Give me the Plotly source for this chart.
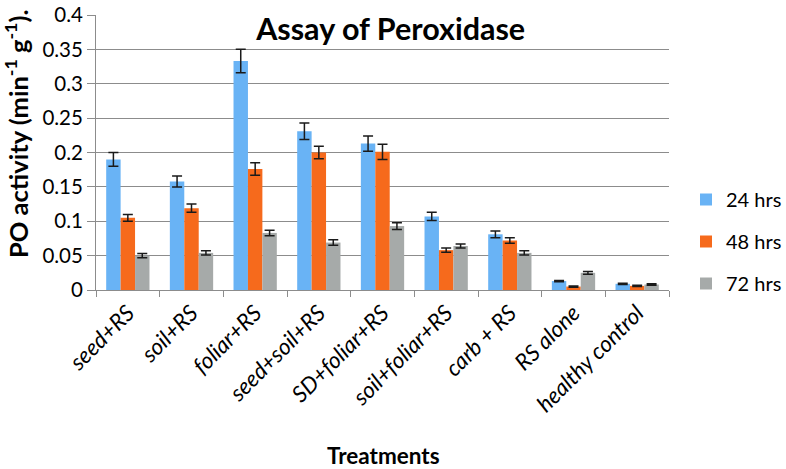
import plotly.graph_objects as go

categories = ["seed+RS", "soil+RS", "foliar+RS", "seed+soil+RS", "SD+foliar+RS",
              "soil+foliar+RS", "carb + RS", "RS alone", "healthy control"]
series_names = ["24 hrs", "48 hrs", "72 hrs"]
vals_24 = [0.190, 0.158, 0.333, 0.231, 0.213, 0.107, 0.081, 0.013, 0.009]
vals_48 = [0.105, 0.119, 0.176, 0.200, 0.201, 0.058, 0.072, 0.005, 0.006]
vals_72 = [0.050, 0.054, 0.083, 0.069, 0.093, 0.064, 0.054, 0.025, 0.008]
err_24 = [0.010, 0.008, 0.017, 0.012, 0.011, 0.006, 0.005, 0.001, 0.001]
err_48 = [0.005, 0.006, 0.009, 0.009, 0.011, 0.003, 0.004, 0.001, 0.001]
err_72 = [0.003, 0.003, 0.004, 0.004, 0.005, 0.003, 0.003, 0.002, 0.001]
colors = ["#69B3F5", "#F66A1C", "#A6AAA9"]
y_ticks = [0, 0.05, 0.1, 0.15, 0.2, 0.25, 0.3, 0.35, 0.4]

FONT = "Lato"
fig = go.Figure()
for name, vals, errs, col in zip(series_names, [vals_24, vals_48, vals_72],
                                 [err_24, err_48, err_72], colors):
    fig.add_trace(go.Bar(
        x=categories, y=vals, name=name, legendgroup=name,
        marker=dict(color=col, line=dict(width=0)),
        error_y=dict(type="data", array=errs, visible=True,
                     color="#1a1a1a", thickness=1.5, width=5),
    ))

fig.update_layout(
    width=786, height=469,
    margin=dict(l=96, r=117, t=15, b=179, autoexpand=False),
    paper_bgcolor="white", plot_bgcolor="white",
    barmode="group", bargap=0.32, bargroupgap=0,
    font=dict(family=FONT, size=20, color="#000000"),
    title=dict(text="<b>Assay of Peroxidase</b>", x=0.497, xanchor="center",
               y=1 - 29 / 469, yanchor="middle",
               font=dict(family=FONT, size=30.5, color="#000000")),
    legend=dict(x=1.0297, xanchor="left", y=0.40, yanchor="top",
                traceorder="grouped", tracegroupgap=13,
                font=dict(family=FONT, size=20), itemwidth=30,
                bgcolor="rgba(0,0,0,0)"),
    xaxis=dict(
        type="category", tickangle=-45, automargin=False,
        tickfont=dict(family=FONT, size=22.5, style="italic"),
        showline=True, linecolor="#8C8C8C", linewidth=1,
        ticks="outside", tickson="boundaries", ticklen=6, tickcolor="#8C8C8C",
        showgrid=False,
    ),
    yaxis=dict(
        range=[0, 0.4], tickvals=y_ticks, automargin=False,
        ticktext=[f"{v:g}" for v in y_ticks],
        showgrid=True, gridcolor="#8C8C8C", gridwidth=1,
        showline=True, linecolor="#8C8C8C", linewidth=1,
        ticks="outside", ticklen=8, tickcolor="#8C8C8C",
        zeroline=False, tickfont=dict(family=FONT, size=20.5),
    ),
    annotations=[
        dict(text="<b>PO activity (min<sup>-1</sup> g<sup>-1</sup>).</b>",
             xref="paper", yref="paper", x=(16 - 96) / 573, y=(290 - 134) / 275,
             xanchor="center", yanchor="middle", textangle=-90, showarrow=False,
             font=dict(family=FONT, size=25.5)),
        dict(text="<b>Treatments</b>",
             xref="paper", yref="paper", x=(383 - 96) / 573, y=(290 - 455) / 275,
             xanchor="center", yanchor="middle", showarrow=False,
             font=dict(family=FONT, size=22.5)),
    ],
)

fig.write_html("out.html", config={"displayModeBar": False},
               post_script="document.body.style.margin='0';")
